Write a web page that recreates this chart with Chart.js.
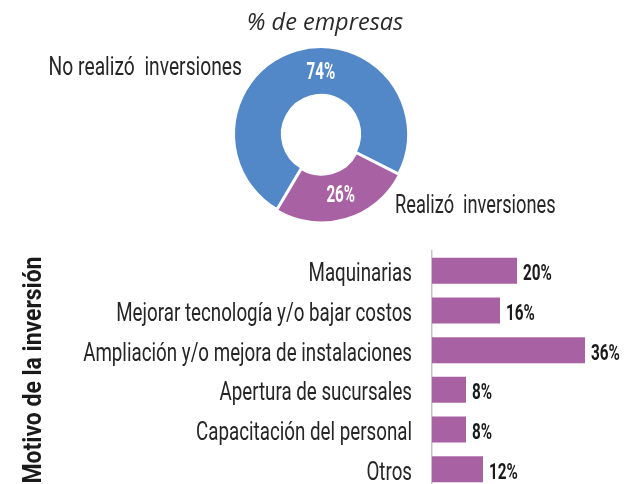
<!DOCTYPE html>
<html>
<head>
<meta charset="utf-8">
<script src="https://cdn.jsdelivr.net/npm/chart.js@4.4.1/dist/chart.umd.min.js"></script>
<style>
  html, body { margin:0; padding:0; background:#fff; }
  body { width:624px; height:484px; overflow:hidden; position:relative; }
  #donut { position:absolute; left:0; top:0; }
  #bars { position:absolute; left:0; top:240px; }
</style>
</head>
<body>
<canvas id="donut" width="624" height="240"></canvas>
<canvas id="bars" width="624" height="250"></canvas>
<script>
// ---- Data ----
const donutTitle = '% de empresas';
const donutLabels = ['Realizó  inversiones', 'No realizó  inversiones'];
const donutValues = [26, 74];
const donutColors = ['#A862A4', '#5388C8'];

const barCategories = [
  'Maquinarias',
  'Mejorar tecnología y/o bajar costos',
  'Ampliación y/o mejora de instalaciones',
  'Apertura de sucursales',
  'Capacitación del personal',
  'Otros'
];
const barValues = [20, 16, 36, 8, 8, 12];
const barColor = '#A862A4';
const axisTitle = 'Motivo de la inversión';

// ---- Text helpers (condensed look: horizontally squeezed sans) ----
const SANS = 'Roboto, "Liberation Sans", sans-serif';
const SQUEEZE = 0.75;
function squeezedText(ctx, text, x, y, opts) {
  ctx.save();
  ctx.font = opts.font;
  ctx.fillStyle = opts.color;
  ctx.textAlign = opts.align || 'left';
  ctx.textBaseline = 'alphabetic';
  ctx.translate(x, y);
  if (opts.rotate) ctx.rotate(opts.rotate);
  ctx.scale(opts.sx || SQUEEZE, 1);
  ctx.fillText(text, 0, 0);
  ctx.restore();
}

// ---- Doughnut ----
const donutLabelShiftDeg = [-2, 16];
const donutTextPlugin = {
  id: 'donutText',
  afterDatasetsDraw(chart) {
    const ctx = chart.ctx;
    const meta = chart.getDatasetMeta(0);
    let cx = 0, cy = 0, outerR = 0;
    meta.data.forEach((arc, i) => {
      const p = arc.getProps(['x','y','startAngle','endAngle','innerRadius','outerRadius']);
      cx = p.x; cy = p.y; outerR = p.outerRadius;
      const a = (p.startAngle + p.endAngle) / 2 + donutLabelShiftDeg[i] * Math.PI / 180;
      const r = (p.innerRadius + p.outerRadius) / 2;
      squeezedText(ctx, donutValues[i] + '%', cx + Math.cos(a) * r, cy + Math.sin(a) * r + 8.5,
        { font: 'bold 23px ' + SANS, color: '#fff', align: 'center', sx: 0.66 });
    });
    // title
    ctx.save();
    ctx.font = 'italic 23.5px "Open Sans", "Noto Sans", sans-serif';
    ctx.fillStyle = '#2a2a2a';
    ctx.textAlign = 'center';
    ctx.textBaseline = 'alphabetic';
    ctx.fillText(donutTitle, cx + 4, cy - outerR - 17);
    ctx.restore();
    // category labels
    squeezedText(ctx, donutLabels[1], cx - outerR + 8, cy - 59,
      { font: '25px ' + SANS, color: '#262626', align: 'right', sx: 0.77 });
    squeezedText(ctx, donutLabels[0], cx + 74, cy + 79,
      { font: '25px ' + SANS, color: '#262626', align: 'left', sx: 0.73 });
  }
};

new Chart(document.getElementById('donut'), {
  type: 'doughnut',
  data: {
    labels: donutLabels,
    datasets: [{
      data: donutValues,
      backgroundColor: donutColors,
      borderColor: '#fff',
      borderWidth: 2,
      offset: [6, 0]
    }]
  },
  options: {
    responsive: false,
    animation: false,
    rotation: 117,
    radius: 87,
    cutout: '45%',
    layout: { padding: { left: 221, right: 203, top: 34, bottom: 6 } },
    plugins: { legend: { display: false }, tooltip: { enabled: false } }
  },
  plugins: [donutTextPlugin]
});

// ---- Bars ----
const barTextPlugin = {
  id: 'barText',
  afterDatasetsDraw(chart) {
    const ctx = chart.ctx;
    const ys = chart.scales.y;
    const area = chart.chartArea;
    const meta = chart.getDatasetMeta(0);
    meta.data.forEach((bar, i) => {
      squeezedText(ctx, barValues[i] + '%', bar.x + 6, bar.y + 9.5,
        { font: 'bold 22.5px ' + SANS, color: '#1a1a1a', align: 'left', sx: 0.68 });
    });
    barCategories.forEach((lab, i) => {
      const y = ys.getPixelForTick(i);
      squeezedText(ctx, lab, area.left - 20, y + 10.5,
        { font: '25px ' + SANS, color: '#262626', align: 'right' });
    });
    squeezedText(ctx, axisTitle, 41, (area.top + area.bottom) / 2,
      { font: 'bold 25.5px ' + SANS, color: '#1a1a1a', align: 'center', rotate: -Math.PI / 2, sx: 0.9 });
  }
};

new Chart(document.getElementById('bars'), {
  type: 'bar',
  data: {
    labels: barCategories,
    datasets: [{
      data: barValues,
      backgroundColor: barColor,
      borderWidth: 0,
      categoryPercentage: 1,
      barPercentage: 0.656
    }]
  },
  options: {
    indexAxis: 'y',
    responsive: false,
    animation: false,
    layout: { padding: { top: 11, right: 22, bottom: 1, left: 0 } },
    scales: {
      x: { display: false, min: 0, max: 40 },
      y: {
        afterFit(scale) { scale.width = 432; },
        grid: { display: false, drawTicks: false },
        border: { display: true, color: '#c4c4c4', width: 1.5 },
        ticks: { display: false },
        title: { display: false }
      }
    },
    plugins: { legend: { display: false }, tooltip: { enabled: false } }
  },
  plugins: [barTextPlugin]
});
</script>
</body>
</html>
